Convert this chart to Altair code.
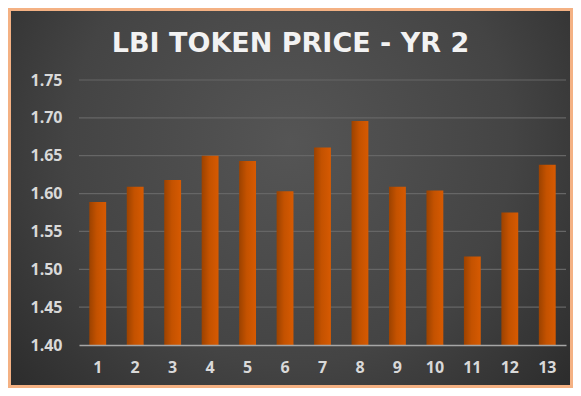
import altair as alt
import pandas as pd

periods = [str(i) for i in range(1, 14)]
prices = [1.589, 1.609, 1.618, 1.650, 1.643, 1.603, 1.661, 1.696, 1.609, 1.604, 1.517, 1.575, 1.638]
y_ticks = [1.40, 1.45, 1.50, 1.55, 1.60, 1.65, 1.70, 1.75]
y_base = 1.40

df = pd.DataFrame({"period": periods, "price": prices})
grid_df = pd.DataFrame({"price": y_ticks[1:]})

W, H = 487, 265
PL, PT, PR, PB = 71, 72, 7, 43
INSET = 3

bg_fill = {
    "gradient": "radial",
    "x1": 0.5, "y1": 0.4, "x2": 0.5, "y2": 0.4, "r1": 0, "r2": 0.72,
    "stops": [
        {"offset": 0, "color": "#555555"},
        {"offset": 0.55, "color": "#444444"},
        {"offset": 1, "color": "#272727"},
    ],
}

bar_fill = {
    "gradient": "linear",
    "x1": 0, "y1": 0, "x2": 1, "y2": 0,
    "stops": [
        {"offset": 0, "color": "#9c4200"},
        {"offset": 0.45, "color": "#c45200"},
        {"offset": 1, "color": "#d65a02"},
    ],
}

y_scale = alt.Scale(domain=[1.40, 1.75], zero=False, nice=False)
y_axis = alt.Axis(
    values=y_ticks,
    format=".2f",
    labelFont="Open Sans",
    labelFontWeight="bold",
    labelFontSize=16,
    labelColor="#d9d9d9",
    labelPadding=17,
    labelOverlap=False,
    ticks=False,
    domain=False,
    grid=False,
    zindex=1,
)

background = alt.Chart(alt.Data(values=[{}])).mark_rect(fill=bg_fill).encode(
    x=alt.value(-PL + INSET),
    x2=alt.value(W + PR - INSET),
    y=alt.value(-PT + INSET),
    y2=alt.value(H + PB - INSET),
)

grid = alt.Chart(grid_df).mark_rule(color="#666666", strokeWidth=1.2).encode(
    y=alt.Y("price:Q", scale=y_scale, axis=y_axis, title=None),
    x=alt.value(0),
    x2=alt.value(W),
)

bars = alt.Chart(df).mark_bar(fill=bar_fill).encode(
    x=alt.X(
        "period:N",
        sort=periods,
        title=None,
        scale=alt.Scale(paddingInner=0.55, paddingOuter=0.275),
        axis=alt.Axis(
            labelAngle=0,
            labelFont="Open Sans",
            labelFontWeight="bold",
            labelFontSize=16,
            labelColor="#d9d9d9",
            labelPadding=14,
            ticks=False,
            domain=True,
            domainColor="#a6a6a6",
            domainWidth=1.5,
            grid=False,
            zindex=1,
        ),
    ),
    y=alt.Y("price:Q", title=None, scale=y_scale, axis=y_axis),
    y2=alt.datum(y_base),
)

chart = (
    alt.layer(background, grid, bars)
    .properties(
        width=W,
        height=H,
        padding={"left": PL, "top": PT, "right": PR, "bottom": PB},
        autosize=alt.AutoSizeParams(type="none"),
        background="#f4b183",
        title=alt.TitleParams(
            "LBI TOKEN PRICE - YR 2",
            font="DejaVu Sans",
            fontSize=27,
            fontWeight="bold",
            color="#f2f2f2",
            anchor="middle",
            frame="group",
            baseline="alphabetic",
            dx=-32,
            dy=68,
            offset=0,
            zindex=1,
        ),
    )
    .configure_view(stroke=None)
)

chart.save("out.html", embed_options={"renderer": "svg", "actions": False})
